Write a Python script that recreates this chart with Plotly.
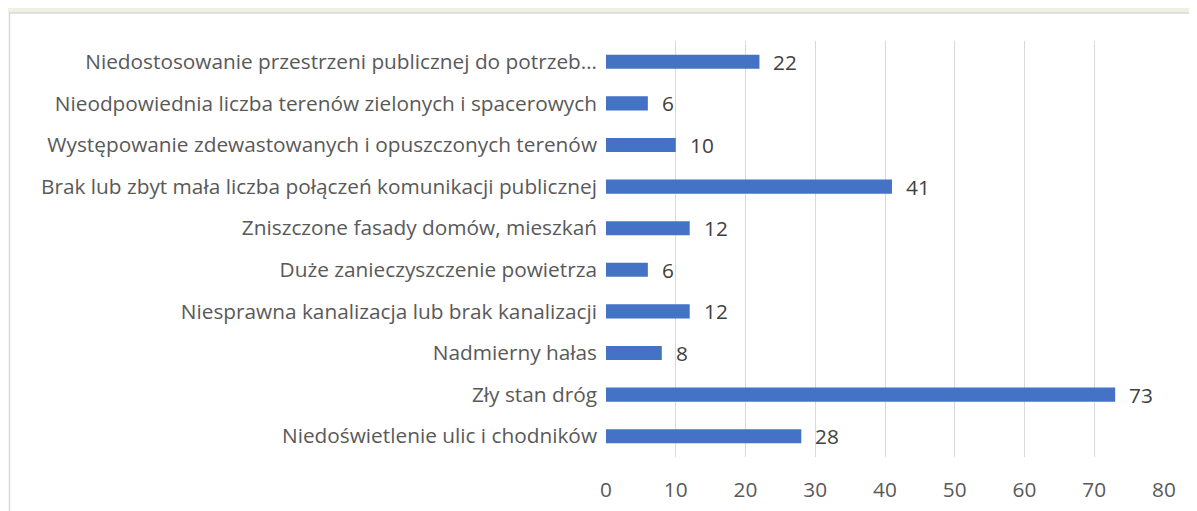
import plotly.graph_objects as go

categories = [
    "Niedostosowanie przestrzeni publicznej do potrzeb…",
    "Nieodpowiednia liczba terenów zielonych i spacerowych",
    "Występowanie zdewastowanych i opuszczonych terenów",
    "Brak lub zbyt mała liczba połączeń komunikacji publicznej",
    "Zniszczone fasady domów, mieszkań",
    "Duże zanieczyszczenie powietrza",
    "Niesprawna kanalizacja lub brak kanalizacji",
    "Nadmierny hałas",
    "Zły stan dróg",
    "Niedoświetlenie ulic i chodników",
]
values = [22, 6, 10, 41, 12, 6, 12, 8, 73, 28]
x_ticks = [0, 10, 20, 30, 40, 50, 60, 70, 80]

FONT = "Open Sans, sans-serif"
LABEL = "#595959"
VALUE = "#404040"
FS = 20.8

# plot area in window pixels: x 606..1164, y 41..457 (body margin shifts figure by 8px)
PW, PH = 558, 416

fig = go.Figure(
    go.Bar(
        x=values,
        y=categories,
        orientation="h",
        marker=dict(color="#4472C4", line=dict(width=0)),
        width=0.34,
        hoverinfo="x+y",
    )
)

for cat, val in zip(categories, values):
    fig.add_annotation(
        x=val, y=cat, text=str(val), showarrow=False,
        xanchor="left", xshift=12,
        font=dict(family=FONT, size=FS, color=VALUE),
    )

# strip of the page behind the chart
fig.add_shape(type="rect", xref="paper", yref="paper",
              x0=-2, x1=2, y0=1.0 + 28 / PH, y1=1.2,
              fillcolor="#eef0e2", line=dict(width=0), layer="below")
# chart frame
fig.add_shape(type="rect", xref="paper", yref="paper",
              x0=-(606 - 9.5) / PW, x1=1.2, y0=-0.3, y1=1.0 + 28 / PH,
              fillcolor="rgba(0,0,0,0)", line=dict(color="#d9d9d9", width=1.5))

fig.update_layout(
    width=1189,
    height=503,
    margin=dict(l=598, r=33, t=33, b=54),
    paper_bgcolor="white",
    plot_bgcolor="white",
    showlegend=False,
    font=dict(family=FONT, size=FS, color=LABEL),
    xaxis=dict(
        range=[0, 80],
        tickvals=x_ticks,
        showgrid=True,
        gridcolor="#d9d9d9",
        gridwidth=1,
        zeroline=False,
        showline=False,
        ticks="",
        automargin=False,
        tickfont=dict(family=FONT, size=FS, color=LABEL),
        ticklabelstandoff=18,
    ),
    yaxis=dict(
        autorange="reversed",
        showgrid=False,
        zeroline=False,
        showline=False,
        ticks="",
        automargin=False,
        ticklabelstandoff=8,
        tickfont=dict(family=FONT, size=FS, color=LABEL),
    ),
)

fig.write_html("out.html")
